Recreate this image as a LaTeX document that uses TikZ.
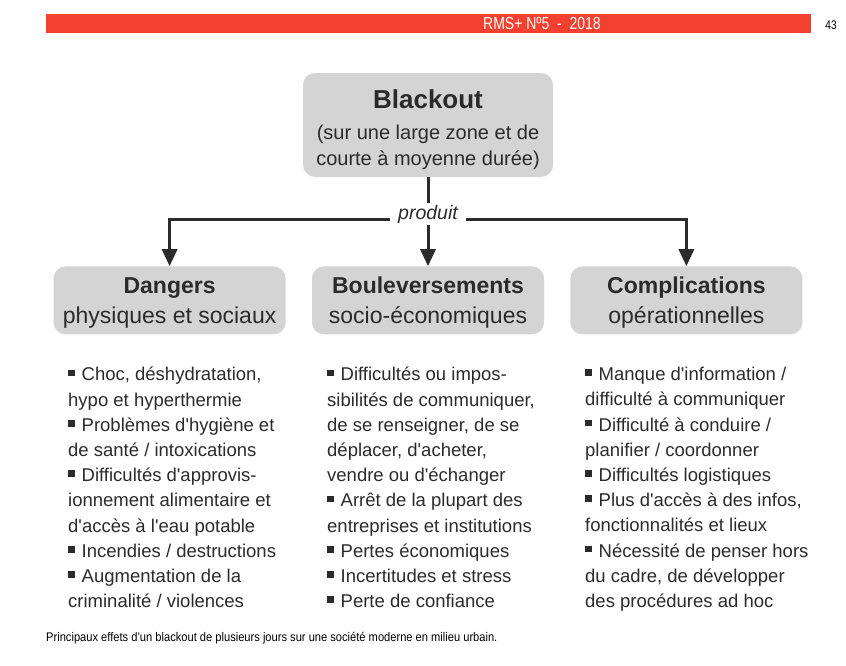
\documentclass[tikz,border=0pt]{standalone}
\usepackage{fontspec}
\setmainfont{Liberation Sans}[Ligatures=TeXOff]
\newfontfamily\etroite{Liberation Sans}[FakeStretch=0.8]
\newfontfamily\legendefont{Liberation Sans}[FakeStretch=0.89]
\usepackage{xcolor}
\usetikzlibrary{arrows.meta, positioning}
\definecolor{rouge}{HTML}{F4402F}
\definecolor{gris}{HTML}{D4D4D4}
\definecolor{encre}{HTML}{2B2B2B}
\newcommand{\puce}{\rule[0.25em]{0.37em}{0.36em}\hspace{0.36em}}

\begin{document}
\begin{tikzpicture}[x=1pt, y=-1pt, >={Triangle[width=15pt,length=17pt]},
	node distance=26pt,
	boite/.style={fill=gris, rounded corners=12pt, minimum width=232pt, minimum height=68pt, align=center, text=encre, text depth=0pt, font=\fontsize{23}{30}\selectfont},
	liste/.style={anchor=north west, inner sep=0pt, align=left, text=encre, font=\fontsize{18.5}{25.2}\selectfont},
	trait/.style={draw=encre, line width=3pt}]
	\useasboundingbox (0,0) rectangle (846,665);
	
	% bandeau du haut
	\fill[rouge] (46,14) rectangle (811,33);
	\node[text=white, font=\etroite\fontsize{17.5}{17}\selectfont] (revue) at (542,23.5) {RMS+ Nº5 \ - \ 2018};
	\node[font=\etroite\fontsize{12.5}{12}\selectfont] (page) at (831,25) {43};
	
	% noeud principal
	\node[boite, minimum width=250pt, minimum height=104pt, font=\fontsize{20}{26}\selectfont, text height=81pt] (blackout) at (428,125) {{\fontsize{26}{30}\selectfont\bfseries Blackout}\\[5pt] (sur une large zone et de\\ courte à moyenne durée)};
	
	% les trois effets
	\node[boite, below=89pt of blackout] (bouleversements) {\textbf{Bouleversements}\\ socio-économiques};
	\node[boite, left=of bouleversements] (dangers) {\textbf{Dangers}\\ physiques et sociaux};
	\node[boite, right=of bouleversements] (complications) {\textbf{Complications}\\ opérationnelles};
	
	% fleches
	\node[fill=white, inner xsep=8pt, inner ysep=1.5pt, text=encre, font=\fontsize{19.5}{20}\selectfont\itshape] (produit) at (428,214) {produit};
	\coordinate (rail) at (428,219);
	\draw[trait] (blackout.south) -- (produit.north);
	\draw[trait, ->] (produit.south) -- (bouleversements.north);
	\draw[trait, ->] (produit.west |- rail) -| (dangers.north);
	\draw[trait, ->] (produit.east |- rail) -| (complications.north);
	
	% listes
	\node[liste] (liste_dangers) at (68,367) {\puce Choc, déshydratation,\\
		hypo et hyperthermie\\
		\puce Problèmes d'hygiène et\\
		de santé / intoxications\\
		\puce Difficultés d'approvis-\\
		ionnement alimentaire et\\
		d'accès à l'eau potable\\
		\puce Incendies / destructions\\
		\puce Augmentation de la\\
		criminalité / violences};
	\node[liste] (liste_bouleversements) at (327,367) {\puce Difficultés ou impos-\\
		sibilités de communiquer,\\
		de se renseigner, de se\\
		déplacer, d'acheter,\\
		vendre ou d'échanger\\
		\puce Arrêt de la plupart des\\
		entreprises et institutions\\
		\puce Pertes économiques\\
		\puce Incertitudes et stress\\
		\puce Perte de confiance};
	\node[liste] (liste_complications) at (585,367) {\puce Manque d'information /\\
		difficulté à communiquer\\
		\puce Difficulté à conduire /\\
		planifier / coordonner\\
		\puce Difficultés logistiques\\
		\puce Plus d'accès à des infos,\\
		fonctionnalités et lieux\\
		\puce Nécessité de penser hors\\
		du cadre, de développer\\
		des procédures ad hoc};
	
	% legende
	\node[anchor=west, inner sep=0pt, font=\legendefont\fontsize{12.5}{13}\selectfont] (legende) at (46,638) {Principaux effets d’un blackout de plusieurs jours sur une société moderne en milieu urbain.};
	
\end{tikzpicture}
\end{document}
